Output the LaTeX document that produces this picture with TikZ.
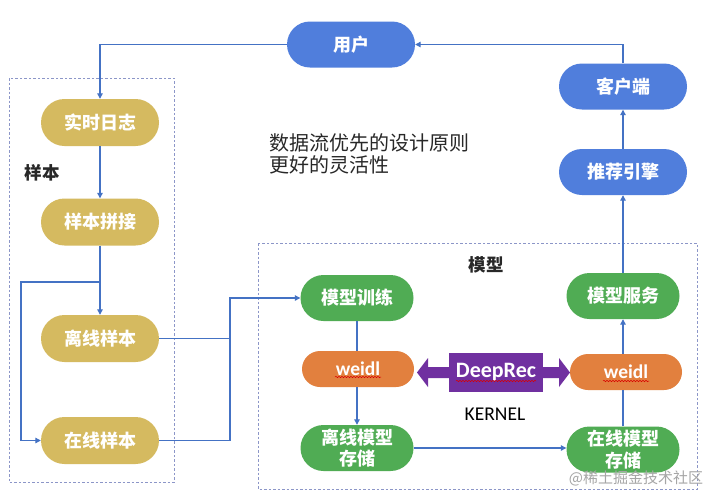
\documentclass[tikz,border=0pt]{standalone}
\usepackage{fontspec}
\usetikzlibrary{arrows.meta,decorations.pathmorphing}
\newfontfamily\cjk{Noto Sans CJK SC}
\newfontfamily\lat{Carlito}
\definecolor{ublue}{RGB}{80,126,220}
\definecolor{ugold}{RGB}{213,186,96}
\definecolor{ugreen}{RGB}{80,172,84}
\definecolor{uorange}{RGB}{226,128,62}
\definecolor{upurple}{RGB}{112,48,160}
\definecolor{uline}{RGB}{68,114,196}
\definecolor{ubox}{RGB}{140,150,200}
\definecolor{utext}{RGB}{40,40,40}
\tikzset{
  pill/.style={draw=none, text=white, inner sep=0pt, align=center,
    font=\cjk\bfseries\fontsize{18}{21.5}\selectfont},
  bluepill/.style={pill, fill=ublue, minimum width=128pt, minimum height=46pt, rounded corners=23pt},
  goldpill/.style={pill, fill=ugold, minimum width=118pt, minimum height=47pt, rounded corners=23.5pt},
  greenpill/.style={pill, fill=ugreen, minimum width=113pt, minimum height=46pt, rounded corners=23pt},
  orangepill/.style={pill, fill=uorange, minimum width=112pt, minimum height=36pt, rounded corners=18pt,
    font=\lat\bfseries\fontsize{19.5}{21}\selectfont},
  conn/.style={draw=uline, line width=1.1pt},
  arr/.style={conn, -{Triangle[length=5.5pt,width=5.5pt]}},
  groupbox/.style={draw=ubox, line width=0.8pt, dash pattern=on 2.5pt off 2pt},
  squig/.style={draw=red!85!black, line width=0.5pt, decorate,
    decoration={snake, amplitude=0.7pt, segment length=3pt}},
}
\begin{document}
\begin{tikzpicture}[x=1pt,y=-1pt]
\useasboundingbox[fill=white] (0,0) rectangle (720,501);

% group boxes
\draw[groupbox] (9,78) rectangle (174,482);
\draw[groupbox] (258,243) rectangle (697,489);

% nodes
\node[bluepill] (yh) at (351,44.5) {用户};
\node[bluepill] (khd) at (623,86.5) {客户端};
\node[bluepill] (tjyq) at (623,172) {推荐引擎};

\node[goldpill] (ssrz) at (100,122.5) {实时日志};
\node[goldpill] (ybpj) at (100,222) {样本拼接};
\node[goldpill] (lxyb) at (100,338.5) {离线样本};
\node[goldpill] (zxyb) at (100,440.5) {在线样本};

\node[greenpill] (mxxl) at (357,298) {模型训练};
\node[orangepill] (wd1) at (358,369) {weidl};
\node[greenpill] (lxmx) at (357,448) {离线模型\\存储};

\node[greenpill] (mxfw) at (623,296) {模型服务};
\node[orangepill] (wd2) at (626,372) {weidl};
\node[greenpill] (zxmx) at (623,449.5) {在线模型\\存储};

% labels
\node[font=\cjk\bfseries\fontsize{17.5}{20}\selectfont, text=utext] (lblyb) at (42,173) {样本};
\node[font=\cjk\bfseries\fontsize{17.5}{20}\selectfont, text=utext] (lblmx) at (486,265) {模型};
\node[font=\lat\fontsize{19.5}{22}\selectfont, text=black] (kernel) at (495,414) {KERNEL};
\node[anchor=west, align=left, inner sep=0pt, text=utext,
      font=\cjk\fontsize{20}{22}\selectfont] (note) at (269,154) {数据流优先的设计原则\\更好的灵活性};

% DeepRec double arrow
\fill[upurple] (417,372.5) -- (428,358) -- (428,367) -- (559,367) -- (559,358) -- (570,372.5)
  -- (559,387) -- (559,378) -- (428,378) -- (428,387) -- cycle;
\node[fill=upurple, text=white, minimum width=94pt, minimum height=39pt, inner sep=0pt,
      font=\lat\bfseries\fontsize{22}{24}\selectfont] (dr) at (496,372) {DeepRec};

% spell-check squiggles
\draw[squig] ([shift={(-23,8)}]wd1.center) -- ++(46,0);
\draw[squig] ([shift={(-23,9)}]wd2.center) -- ++(46,0);
\draw[squig] ([shift={(-40,9)}]dr.center) -- ++(80,0);

% connectors
\draw[arr] (khd.north) |- (yh.east);
\draw[arr] (yh.west) -| (ssrz.north);
\draw[arr] (ssrz.south) -- (ybpj.north);
\coordinate (split) at (100,282);
\coordinate (leftrail) at (21,282);
\draw[conn] (ybpj.south) -- (split);
\draw[arr] (split) -- (lxyb.north);
\draw[arr] (split) -- (leftrail) |- (zxyb.west);
\coordinate (jx) at (230,298);
\draw[conn] (lxyb.east) -- (lxyb.east -| jx);
\draw[arr] (zxyb.east) -| (jx) -- (mxxl.west);
\draw[conn] (mxxl.south) -- (mxxl.south |- wd1.north);
\draw[arr] (mxxl.south |- wd1.south) -- (lxmx.north);
\draw[arr] (lxmx.east) -- (lxmx.east -| zxmx.west);
\draw[conn] (zxmx.north) -- (zxmx.north |- wd2.south);
\draw[arr] (zxmx.north |- wd2.north) -- (mxfw.south);
\draw[arr] (mxfw.north) -- (tjyq.south);
\draw[arr] (tjyq.north) -- (khd.south);

% watermark
\node[font=\cjk\fontsize{15}{17}\selectfont, text=black!35] (wm) at (636,478) {@稀土掘金技术社区};
\end{tikzpicture}
\end{document}
